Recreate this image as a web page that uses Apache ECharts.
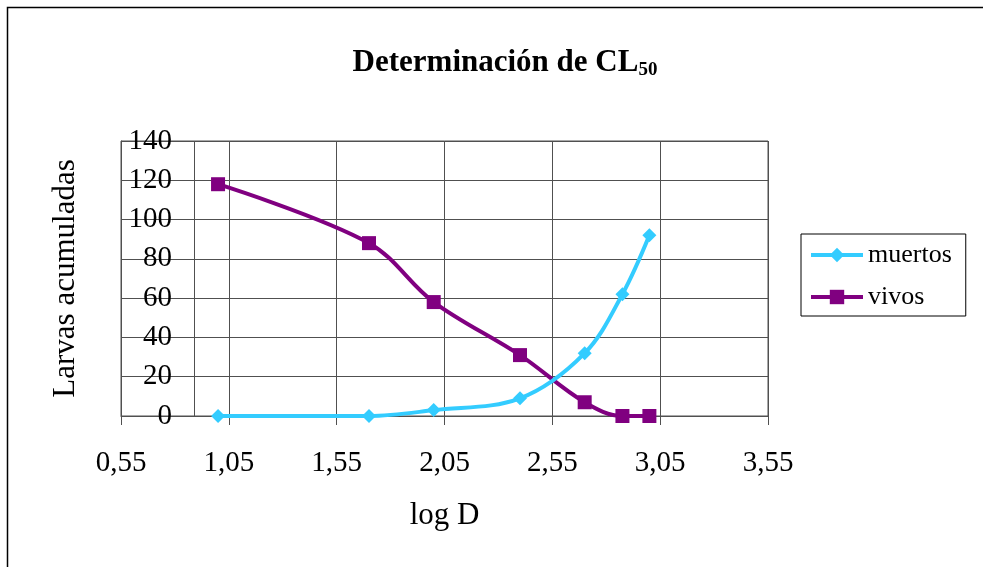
<!DOCTYPE html>
<html>
<head>
<meta charset="utf-8">
<script src="https://cdn.jsdelivr.net/npm/echarts@6/dist/echarts.min.js"></script>
<style>html,body{margin:0;padding:0;background:#fff}#c{width:983px;height:567px}</style>
</head>
<body>
<div id="c"></div>
<script>
// ---- data ----
const logD = [1.0, 1.7, 2.0, 2.4, 2.7, 2.875, 3.0];
const muertos = [0, 0, 3, 9, 32, 62, 92];
const vivos = [118, 88, 58, 31, 7, 0, 0];
const xTickLabels = ['0,55', '1,05', '1,55', '2,05', '2,55', '3,05', '3,55'];
const yTickLabels = ['0', '20', '40', '60', '80', '100', '120', '140'];
const seriesNames = ['muertos', 'vivos'];
const titleMain = 'Determinación de CL';
const titleSub = '50';
const xName = 'log D';
const yName = 'Larvas acumuladas';
const yAxisCross = 0.8926; // where Excel drew the vertical axis line

// axis is shifted so ticks land on multiples of the interval
const SHIFT = 0.05;
const pts = ys => logD.map((x, i) => [x - SHIFT, ys[i]]);
const FONT = '"Liberation Serif", "DejaVu Serif", serif';
const GRID = '#505050';

const chart = echarts.init(document.getElementById('c'));
chart.setOption({
  animation: false,
  backgroundColor: '#fff',
  textStyle: { fontFamily: FONT },
  title: {
    text: '{a|' + titleMain + '}{b|' + titleSub + '}',
    left: 500, top: 40, textAlign: 'center',
    textStyle: {
      rich: {
        a: { fontFamily: FONT, fontSize: 31, fontWeight: 'bold', color: '#000' },
        b: { fontFamily: FONT, fontSize: 19, fontWeight: 'bold', color: '#000', padding: [16, 0, 0, 0] }
      }
    }
  },
  graphic: [{
    type: 'polyline', silent: true,
    shape: { points: [[7.5, 567], [7.5, 7.5], [983, 7.5]] },
    style: { stroke: '#000', lineWidth: 1.5, fill: null }
  }],
  legend: {
    orient: 'vertical', left: 801, top: 234,
    data: seriesNames,
    itemWidth: 52, itemHeight: 18, itemGap: 16,
    padding: [8, 14, 6, 8],
    borderColor: '#000', borderWidth: 1,
    lineStyle: { width: 4 },
    textStyle: { fontFamily: FONT, fontSize: 26, color: '#000' }
  },
  grid: { left: 121, right: 215, top: 141, bottom: 151, show: true, borderColor: GRID, borderWidth: 1 },
  xAxis: {
    type: 'value', min: 0.5, max: 3.5, interval: 0.5,
    name: xName, nameLocation: 'middle', nameGap: 84,
    nameTextStyle: { fontFamily: FONT, fontSize: 31, color: '#000' },
    axisLine: { lineStyle: { color: GRID } },
    axisTick: { show: true, length: 9, lineStyle: { color: GRID } },
    splitLine: { show: true, lineStyle: { color: GRID, width: 1 } },
    axisLabel: {
      margin: 33, fontFamily: FONT, fontSize: 29, color: '#000',
      formatter: (v) => {
        const i = Math.round((v - 0.5) / 0.5);
        return xTickLabels[i] !== undefined ? xTickLabels[i] : '';
      }
    }
  },
  yAxis: {
    type: 'value', min: 0, max: 140, interval: 20,
    name: yName, nameLocation: 'middle', nameGap: 40, nameRotate: 90,
    nameTextStyle: { fontFamily: FONT, fontSize: 31, color: '#000' },
    axisLine: { show: true, lineStyle: { color: GRID } },
    axisTick: { show: false },
    splitLine: { show: true, lineStyle: { color: GRID, width: 1 } },
    axisLabel: {
      margin: -51, fontFamily: FONT, fontSize: 29, color: '#000',
      formatter: (v) => { const i = Math.round(v / 20); return yTickLabels[i] !== undefined ? yTickLabels[i] : ''; }
    }
  },
  series: [
    {
      name: seriesNames[0], type: 'line', data: pts(muertos), smooth: 0.35,
      symbol: 'diamond', symbolSize: 14, color: '#33CCFF',
      lineStyle: { width: 4, color: '#33CCFF' }, itemStyle: { color: '#33CCFF' },
      z: 3,
      markLine: {
        silent: true, symbol: 'none', label: { show: false },
        lineStyle: { color: GRID, width: 1, type: 'solid' },
        data: [{ xAxis: yAxisCross - SHIFT }]
      }
    },
    {
      name: seriesNames[1], type: 'line', data: pts(vivos), smooth: 0.35,
      symbol: 'rect', symbolSize: 14, color: '#800080',
      lineStyle: { width: 4, color: '#800080' }, itemStyle: { color: '#800080' },
      z: 2
    }
  ]
});
</script>
</body>
</html>
